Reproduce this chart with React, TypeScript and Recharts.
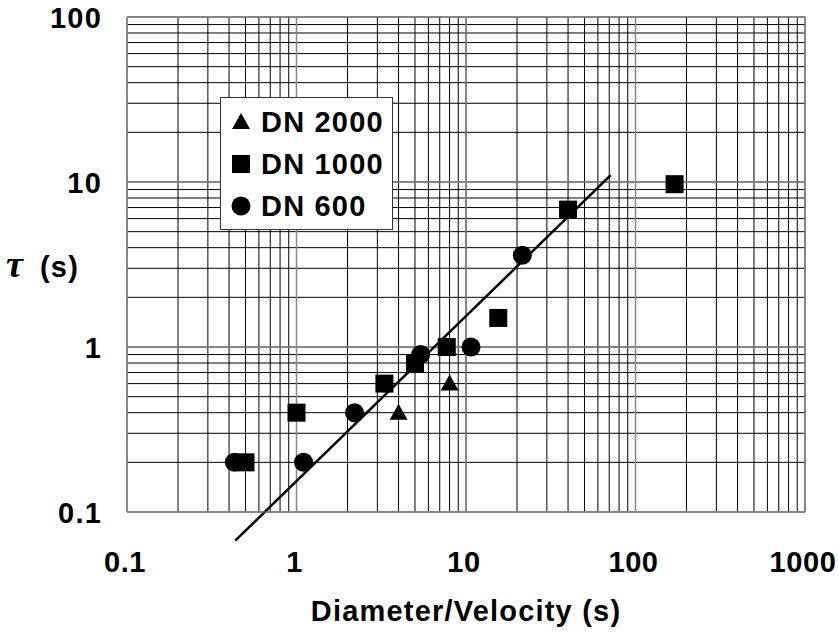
import { ScatterChart, Scatter, XAxis, YAxis, CartesianGrid, ReferenceLine, Legend } from 'recharts';

const dn2000X = [4, 8];
const dn2000Y = [0.4, 0.6];
const dn1000X = [0.5, 1, 3.3, 5, 7.7, 15.5, 40, 170];
const dn1000Y = [0.2, 0.4, 0.6, 0.8, 1.0, 1.5, 6.8, 9.7];
const dn600X = [0.43, 1.1, 2.2, 5.4, 10.7, 21.5];
const dn600Y = [0.2, 0.2, 0.4, 0.9, 1.0, 3.6];

// fitted trend line end points
const fitX = [0.435, 71.4];
const fitY = [0.067, 11];

const xDecades = [0.1, 1, 10, 100];
const yDecades = [0.1, 1, 10];
const xMajor = [0.1, 1, 10, 100, 1000];
const yMajor = [0.1, 1, 10, 100];
const multipliers = [1, 2, 3, 4, 5, 6, 7, 8, 9];

const xTicks = [...xDecades.flatMap((d) => multipliers.map((m) => +(d * m).toPrecision(3))), 1000];
const yTicks = [...yDecades.flatMap((d) => multipliers.map((m) => +(d * m).toPrecision(3))), 100];

const toPoints = (xs: number[], ys: number[]) => xs.map((x, i) => ({ x, y: ys[i] }));

const FONT = '"Liberation Sans", Arial, sans-serif';

const isMajor = (v: number) => {
  const l = Math.log10(v);
  return Math.abs(l - Math.round(l)) < 1e-9;
};

const XTick = ({ x, y, payload }: any) => {
  if (!isMajor(payload.value)) return null;
  return (
    <text x={x - 2} y={y + 52} textAnchor="middle" fontFamily={FONT} fontWeight="bold" fontSize={29} letterSpacing={0.6} fill="#000">
      {String(payload.value)}
    </text>
  );
};

const YTick = ({ x, y, payload }: any) => {
  if (!isMajor(payload.value)) return null;
  return (
    <text x={x - 17} y={y + 10.5} textAnchor="end" fontFamily={FONT} fontWeight="bold" fontSize={29} letterSpacing={1.2} fill="#000">
      {String(payload.value)}
    </text>
  );
};

const Triangle = ({ cx, cy }: any) => (
  <polygon points={`${cx - 9},${cy + 7} ${cx + 9},${cy + 7} ${cx},${cy - 9}`} fill="#000" />
);
const Square = ({ cx, cy }: any) => <rect x={cx - 9} y={cy - 9} width={18} height={18} fill="#000" />;
const Dot = ({ cx, cy }: any) => <circle cx={cx} cy={cy} r={9.5} fill="#000" />;

const legendItems = [
  { name: 'DN 2000', marker: <polygon points="1,17 19,17 10,1" fill="#000" /> },
  { name: 'DN 1000', marker: <rect x={1} y={1} width={18} height={18} fill="#000" /> },
  { name: 'DN 600', marker: <circle cx={10} cy={10} r={9.5} fill="#000" /> },
];

const renderLegend = () => (
  <div
    style={{
      width: 171,
      height: 128,
      border: '1px solid #333',
      background: '#fff',
      boxSizing: 'content-box',
      paddingTop: 3,
    }}
  >
    {legendItems.map((it) => (
      <div key={it.name} style={{ display: 'flex', alignItems: 'center', height: 42 }}>
        <svg width={20} height={20} style={{ marginLeft: 10, marginRight: 10 }}>
          {it.marker}
        </svg>
        <span style={{ fontFamily: FONT, fontWeight: 'bold', fontSize: 29, letterSpacing: 1.2, color: '#000', lineHeight: '42px' }}>
          {it.name}
        </span>
      </div>
    ))}
  </div>
);

const YLabel = ({ viewBox }: any) => {
  const cy = viewBox ? viewBox.y + viewBox.height / 2 : 265;
  return (
    <text y={cy + 12} fill="#000">
      <tspan x={6} fontFamily='"Liberation Serif", "Times New Roman", serif' fontStyle="italic" fontWeight="bold" fontSize={38}>
        τ
      </tspan>
      <tspan x={40} fontFamily={FONT} fontWeight="bold" fontSize={29} letterSpacing={1.2}>
        (s)
      </tspan>
    </text>
  );
};

export default function App() {
  return (
    <div style={{ position: 'absolute', left: 0, top: 0, width: 838, height: 635, background: '#fff' }}>
      <ScatterChart width={838} height={635} margin={{ top: 17, right: 33, bottom: 0, left: 0 }}>
        <CartesianGrid stroke="#000" strokeWidth={1} />
        <XAxis
          dataKey="x"
          type="number"
          scale="log"
          domain={[0.1, 1000]}
          ticks={xTicks}
          interval={0}
          allowDataOverflow
          height={123}
          tickLine={false}
          axisLine={{ stroke: '#888' }}
          tick={<XTick />}
          label={{
            value: 'Diameter/Velocity (s)',
            position: 'insideBottom',
            offset: 14,
            style: { fontFamily: FONT, fontWeight: 'bold', fontSize: 29, letterSpacing: 1.2, fill: '#000' },
          }}
        />
        <YAxis
          dataKey="y"
          type="number"
          scale="log"
          domain={[0.1, 100]}
          ticks={yTicks}
          interval={0}
          allowDataOverflow
          width={127}
          tickLine={false}
          axisLine={{ stroke: '#888' }}
          tick={<YTick />}
          label={{ content: <YLabel /> }}
        />
        {yMajor.map((v) => (
          <ReferenceLine key={'y' + v} y={v} stroke="#888" strokeWidth={1.5} />
        ))}
        {xMajor.map((v) => (
          <ReferenceLine key={'x' + v} x={v} stroke="#888" strokeWidth={1.5} />
        ))}
        <ReferenceLine
          segment={[
            { x: fitX[0], y: fitY[0] },
            { x: fitX[1], y: fitY[1] },
          ]}
          stroke="#000"
          strokeWidth={2.5}
          ifOverflow="visible"
        />
        <Scatter name="DN 2000" data={toPoints(dn2000X, dn2000Y)} shape={<Triangle />} isAnimationActive={false} />
        <Scatter name="DN 1000" data={toPoints(dn1000X, dn1000Y)} shape={<Square />} isAnimationActive={false} />
        <Scatter name="DN 600" data={toPoints(dn600X, dn600Y)} shape={<Dot />} isAnimationActive={false} />
        <Legend
          layout="vertical"
          align="center"
          verticalAlign="middle"
          content={renderLegend}
          wrapperStyle={{ left: 220, top: 97, width: 173, height: 132 }}
        />
      </ScatterChart>
    </div>
  );
}
